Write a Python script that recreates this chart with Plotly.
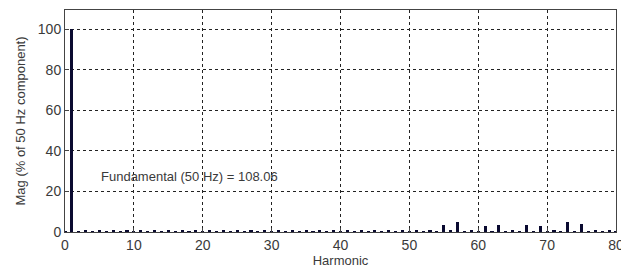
import plotly.graph_objects as go

harmonics = list(range(0, 81))
magnitude = [
    0.2, 100.0, 0.4, 0.5, 0.4, 0.5, 0.4, 0.5, 0.4, 0.5,   # 0-9
    0.4, 0.5, 0.4, 0.5, 0.4, 0.5, 0.4, 0.5, 0.4, 0.5,     # 10-19
    0.4, 0.5, 0.4, 0.5, 0.4, 0.5, 0.4, 0.5, 0.4, 0.5,     # 20-29
    0.4, 0.5, 0.4, 0.5, 0.4, 0.5, 0.4, 0.5, 0.4, 0.5,     # 30-39
    0.4, 0.5, 0.4, 0.5, 0.4, 0.5, 0.4, 0.5, 0.4, 0.5,     # 40-49
    0.4, 0.5, 0.4, 0.6, 0.4, 3.6, 0.5, 5.1, 0.4, 0.6,     # 50-59
    0.4, 3.0, 0.4, 3.6, 0.4, 0.6, 0.4, 3.6, 0.4, 3.1,     # 60-69
    0.4, 0.6, 0.4, 5.1, 0.4, 3.7, 0.4, 0.6, 0.4, 0.5,     # 70-79
    0.4,                                                   # 80
]
x_ticks = [0, 10, 20, 30, 40, 50, 60, 70, 80]
y_ticks = [0, 20, 40, 60, 80, 100]
annotation_text = "Fundamental (50 Hz) = 108.06"

fig = go.Figure()
fig.add_trace(go.Bar(
    x=harmonics, y=magnitude, width=0.45,
    marker=dict(color="#0a0a30", line=dict(width=0)),
))

font = dict(family="Liberation Sans, Arial, sans-serif", size=14, color="#3a3a3a")

fig.update_layout(
    width=621, height=275,
    margin=dict(l=65, r=5, t=10, b=43, autoexpand=False),
    paper_bgcolor="white", plot_bgcolor="white",
    showlegend=False,
    font=font,
    bargap=0,
    annotations=[dict(
        x=5, y=27.5, xref="x", yref="y", text=annotation_text,
        showarrow=False, xanchor="left", yanchor="middle",
        font=dict(family="Liberation Sans, Arial, sans-serif", size=13, color="#3a3a3a"),
    )],
)
fig.update_xaxes(
    range=[0, 80], tickvals=x_ticks, ticktext=[str(v) for v in x_ticks],
    automargin=False, ticklabeloverflow="allow",
    showgrid=True, gridcolor="#222222", griddash="dot", gridwidth=1,
    showline=True, linecolor="#444444", linewidth=1, mirror=True,
    ticks="inside", ticklen=4, tickcolor="#444444",
    zeroline=False,
    title=dict(text="Harmonic", font=dict(size=13, color="#3a3a3a"), standoff=2),
)
fig.update_yaxes(
    range=[0, 109.4], tickvals=y_ticks, ticktext=[str(v) for v in y_ticks],
    automargin=False,
    showgrid=True, gridcolor="#222222", griddash="dot", gridwidth=1,
    showline=True, linecolor="#444444", linewidth=1, mirror=True,
    ticks="inside", ticklen=4, tickcolor="#444444",
    zeroline=False,
    title=dict(text="Mag (% of 50 Hz component)", font=dict(size=13, color="#3a3a3a"), standoff=9),
)

fig.write_html(
    "out.html",
    config={"displayModeBar": False},
    post_script="document.body.style.margin='0';document.body.style.overflow='hidden';",
)
